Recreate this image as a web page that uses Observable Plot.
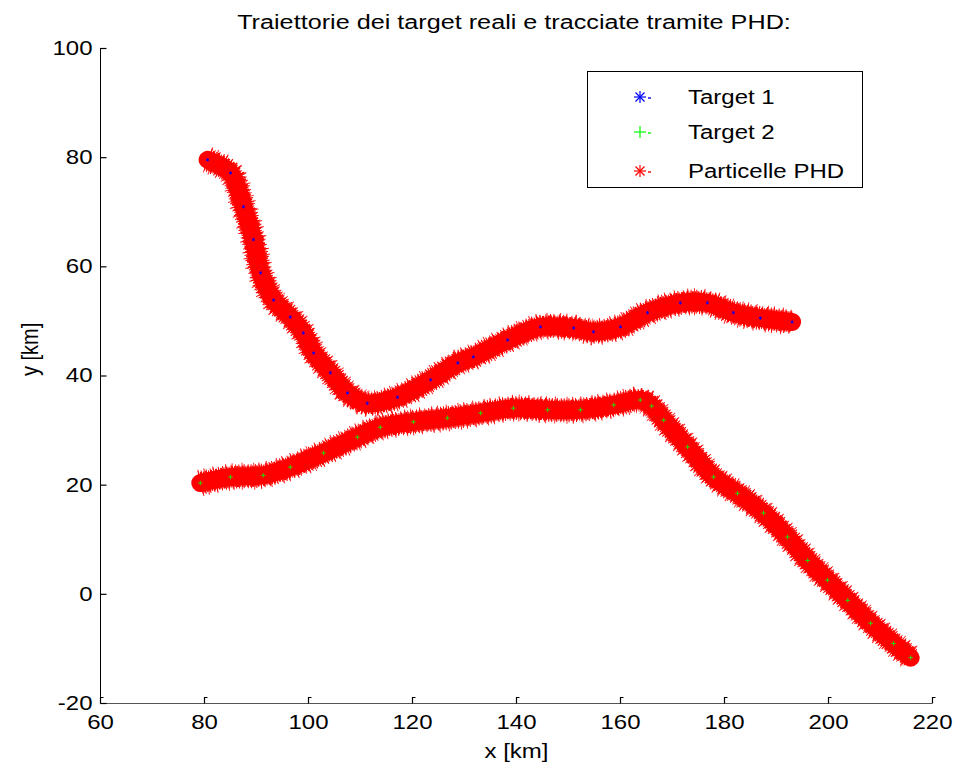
<!DOCTYPE html>
<html>
<head>
<meta charset="utf-8">
<script src="https://cdn.jsdelivr.net/npm/d3@7"></script>
<script src="https://cdn.jsdelivr.net/npm/@observablehq/plot@0.6"></script>
<style>
  body { margin: 0; background: #fff; font-family: "Liberation Sans", Arial, sans-serif; }
  #wrap { position: relative; width: 956px; height: 771px; overflow: hidden; }
  #title { position: absolute; left: 514px; top: 12px; font-size: 20px; line-height: 20px; white-space: nowrap;
           transform: translateX(-50%) scaleX(1.26); color: #000; }
  #chart { position: absolute; left: 0; top: 40px; }
  #legend { position: absolute; left: 587px; top: 71px; width: 274px; height: 115px; border: 1px solid #000; background: #fff; }
  .row { position: absolute; left: 0; height: 24px; width: 274px; }
  .row svg { position: absolute; left: 40px; top: 0; }
  .row span { position: absolute; left: 100px; top: 1px; font-size: 20px; line-height: 22px; white-space: nowrap;
              transform-origin: 0 50%; transform: scaleX(1.2); }
</style>
</head>
<body>
<div id="wrap">
  <div id="title"></div>
  <div id="chart"></div>
  <div id="legend"></div>
</div>
<script>
// Chart text
const titleText = "Traiettorie dei target reali e tracciate tramite PHD:";
const xLabel = "x [km]";
const yLabel = "y [km]";
const legendNames = ["Target 1", "Target 2", "Particelle PHD"];

// Axis ticks
const xTicks = [60, 80, 100, 120, 140, 160, 180, 200, 220];
const yTicks = [-20, 0, 20, 40, 60, 80, 100];

// Target 1 trajectory (km)
const target1X = [80.6, 85.0, 87.5, 89.4, 90.8, 93.3, 96.5, 99.0, 101.0, 104.2, 107.5, 111.3, 117.1, 123.5, 128.7, 131.7, 138.3, 144.6, 151.0, 154.8, 160.0, 165.2, 171.5, 176.7, 181.7, 186.9, 193.0];
const target1Y = [79.6, 77.2, 71.0, 65.0, 58.9, 53.9, 50.8, 47.9, 44.2, 40.6, 36.9, 35.0, 36.1, 39.3, 42.4, 43.5, 46.6, 49.0, 48.8, 48.1, 49.0, 51.6, 53.4, 53.4, 51.6, 50.6, 49.9];

// Target 2 trajectory (km)
const target2X = [79.2, 85.0, 91.3, 96.5, 102.9, 109.4, 113.8, 120.2, 126.7, 133.1, 139.4, 146.0, 152.3, 158.7, 163.8, 166.0, 168.3, 172.9, 177.9, 182.5, 187.5, 192.1, 196.0, 199.8, 203.7, 208.1, 212.5, 215.8];
const target2Y = [20.4, 21.5, 21.8, 23.3, 25.9, 28.8, 30.6, 31.6, 32.3, 33.2, 34.1, 33.8, 33.8, 34.7, 35.6, 34.5, 31.9, 27.0, 21.5, 18.5, 14.9, 10.5, 6.2, 2.6, -1.1, -5.3, -9.0, -11.6];

const colors = {t1: "#0000ff", t2: "#00ff00", phd: "#ff0000"};

const toPoints = (xs, ys, id) => xs.map((x, i) => ({x, y: ys[i], id}));
const t1 = toPoints(target1X, target1Y, 1);
const t2 = toPoints(target2X, target2Y, 2);
const particles = t1.concat(t2);

document.getElementById("title").textContent = titleText;

// short inward tick marks (with the small hook) as dot symbols
const tickUp = {draw(context) { context.moveTo(0, 0); context.lineTo(0, -6); context.lineTo(3, -6); }};
const tickRight = {draw(context) { context.moveTo(0, 0); context.lineTo(6, 0); }};

const band = (strokeWidth, extra) =>
  Plot.line(particles, {x: "x", y: "y", z: "id", stroke: colors.phd, strokeWidth, curve: "catmull-rom",
                        strokeLinecap: "butt", strokeLinejoin: "round", ...extra});

const chart = Plot.plot({
  width: 956,
  height: 731,
  marginTop: 8,
  marginBottom: 68,
  marginLeft: 100,
  marginRight: 24,
  x: {domain: [60, 220]},
  y: {domain: [-20, 100]},
  style: {fontFamily: "'Liberation Sans', Arial, sans-serif", fontSize: "20px", color: "#000", background: "#fff", overflow: "visible"},
  marks: [
    // PHD particle cloud: spiky fringes of uneven reach around a solid core
    band(27, {strokeDasharray: "1 5 1 8 1 11", strokeOpacity: 0.85}),
    band(24, {strokeDasharray: "1 2 1 4 1 3"}),
    band(21, {strokeDasharray: "1 1 2 1"}),
    band(18, {strokeLinecap: "round"}),
    // true target positions
    Plot.dot(t1, {x: "x", y: "y", symbol: "asterisk", r: 1.6, stroke: colors.t1, strokeWidth: 1, strokeOpacity: 0.8}),
    Plot.dot(t2, {x: "x", y: "y", symbol: "plus", r: 1.6, stroke: colors.t2, strokeWidth: 1, strokeOpacity: 0.8}),
    // axis lines and inward ticks
    Plot.ruleX([60], {stroke: "#000", strokeWidth: 1}),
    Plot.ruleY([-20], {stroke: "#555", strokeWidth: 1.2}),
    Plot.dot(xTicks, {x: d => d, y: -20, symbol: tickUp, stroke: "#000", fill: "none", strokeWidth: 1.2}),
    Plot.dot(yTicks, {x: 60, y: d => d, symbol: tickRight, stroke: "#000", fill: "none", strokeWidth: 1.2}),
    Plot.axisX({ticks: xTicks, tickSize: 0, tickPadding: 11, tickFormat: d => String(d), label: null}),
    Plot.axisY({ticks: yTicks, tickSize: 0, tickPadding: 8, tickFormat: d => String(d), label: null}),
    Plot.text([xLabel], {text: d => d, frameAnchor: "bottom", dy: 54, fill: "#000"}),
    Plot.text([yLabel], {text: d => d, frameAnchor: "left", rotate: -90, dx: -70, fill: "#000"})
  ]
});

// widen glyphs horizontally to match the figure's typography
chart.querySelectorAll("text").forEach(t => {
  const tr = t.getAttribute("transform");
  if (tr) {
    t.setAttribute("transform", tr + (tr.includes("rotate") ? " scale(1,1.2)" : " scale(1.2,1)"));
  } else {
    const x = +t.getAttribute("x") || 0, y = +t.getAttribute("y") || 0;
    t.removeAttribute("x"); t.removeAttribute("y");
    t.setAttribute("transform", `translate(${x},${y}) scale(1.2,1)`);
  }
});
document.getElementById("chart").appendChild(chart);

// legend
const legendSymbols = [
  {color: colors.t1, paths: ["M-6,0H6", "M0,-6V6", "M-4.5,-4.5L4.5,4.5", "M-4.5,4.5L4.5,-4.5"]},
  {color: colors.t2, paths: ["M-6,0H6", "M0,-6V6"]},
  {color: colors.phd, paths: ["M-6,0H6", "M0,-6V6", "M-4.5,-4.5L4.5,4.5", "M-4.5,4.5L4.5,-4.5"]}
];
const rowTops = [13, 48, 87];
const legend = document.getElementById("legend");
legendNames.forEach((name, i) => {
  const row = document.createElement("div");
  row.className = "row";
  row.style.top = rowTops[i] + "px";
  const sym = legendSymbols[i];
  row.innerHTML = `<svg width="30" height="24" viewBox="-12 -12 30 24">` +
    sym.paths.map(p => `<path d="${p}" stroke="${sym.color}" stroke-width="1.2" fill="none"/>`).join("") +
    `<path d="M8,1H11" stroke="${sym.color}" stroke-width="1.4"/></svg><span>${name}</span>`;
  legend.appendChild(row);
});
</script>
</body>
</html>
